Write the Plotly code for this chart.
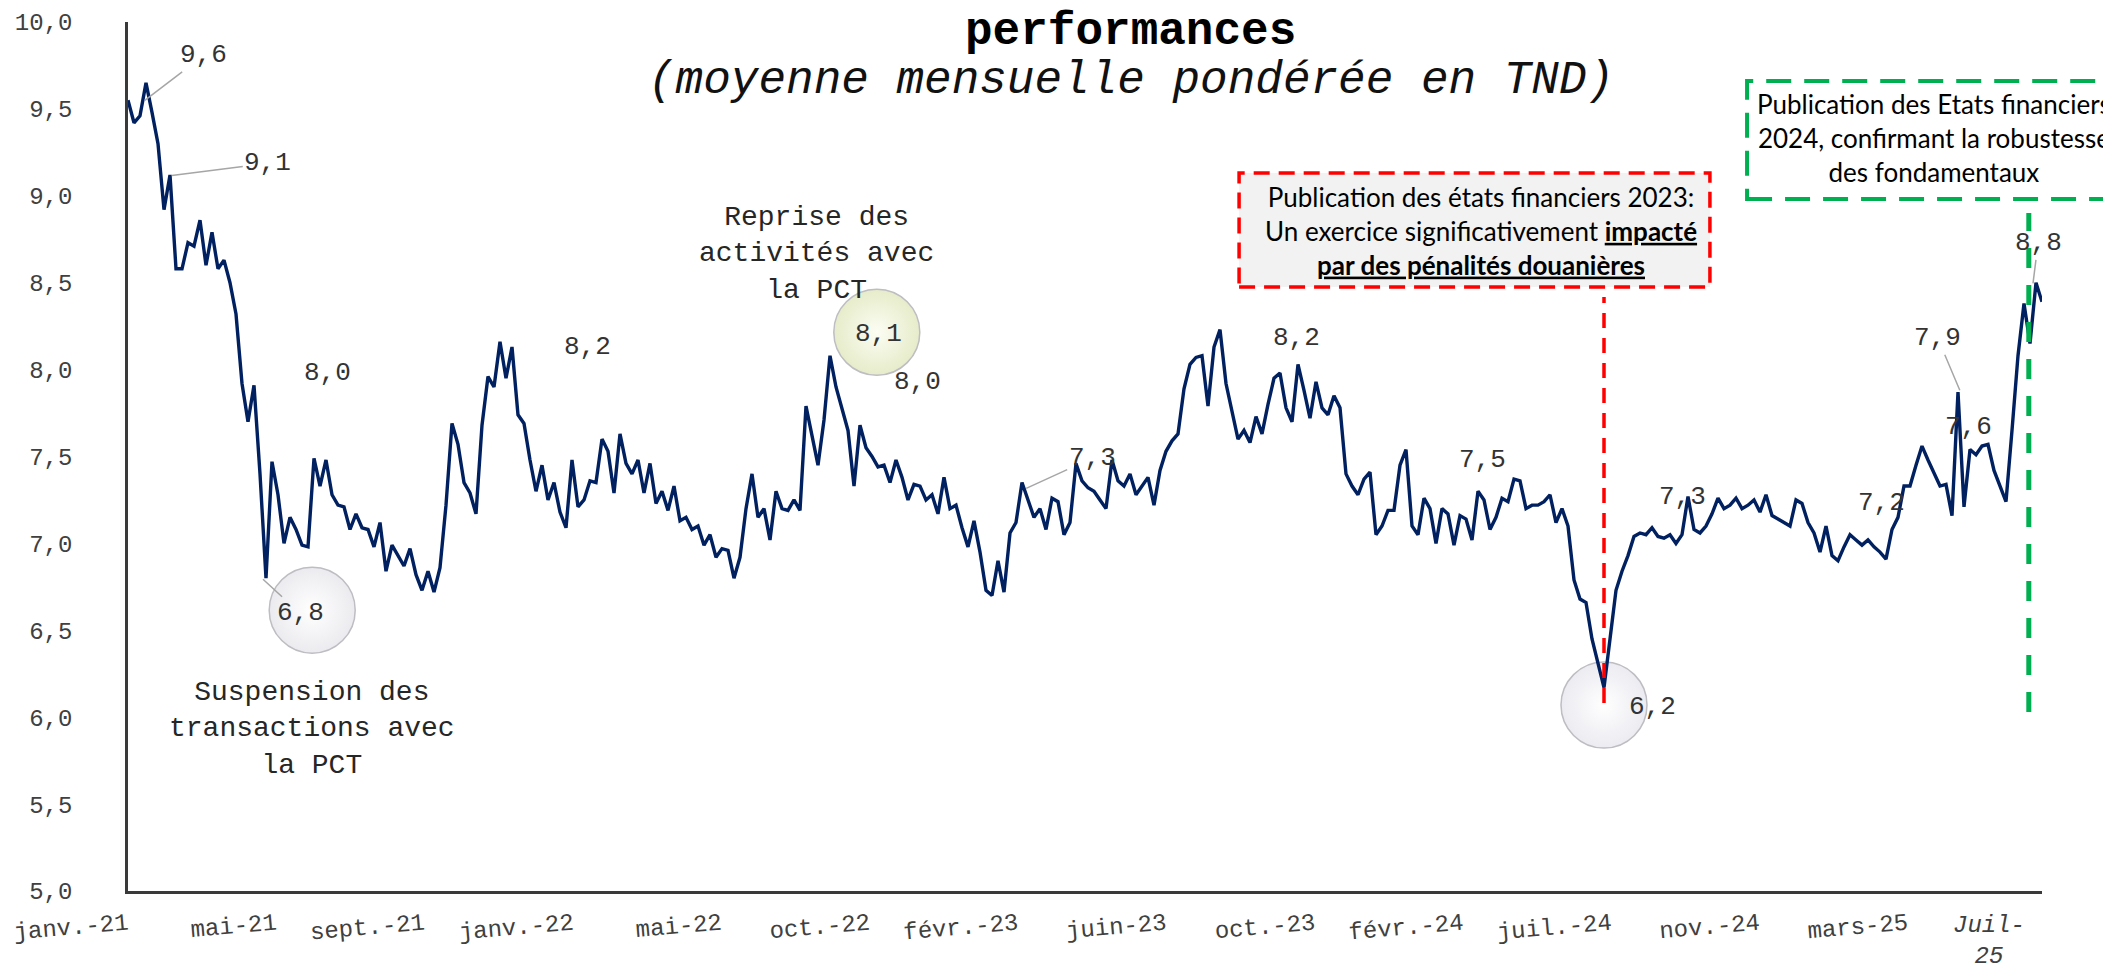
import plotly.graph_objects as go

# ---------------- data ----------------
prices = [
    9.55, 9.42, 9.46, 9.65, 9.48, 9.30, 8.92, 9.12, 8.58, 8.58,
    8.73, 8.71, 8.86, 8.60, 8.79, 8.58, 8.63, 8.50, 8.32, 7.92,
    7.70, 7.91, 7.40, 6.80, 7.47, 7.28, 7.00, 7.15, 7.08, 6.99,
    6.98, 7.49, 7.33, 7.48, 7.28, 7.22, 7.21, 7.08, 7.17, 7.09,
    7.08, 6.98, 7.12, 6.84, 6.99, 6.93, 6.87, 6.97, 6.82, 6.73,
    6.84, 6.72, 6.86, 7.22, 7.69, 7.57, 7.35, 7.29, 7.17, 7.68,
    7.96, 7.90, 8.16, 7.95, 8.13, 7.74, 7.69, 7.48, 7.30, 7.45,
    7.25, 7.35, 7.18, 7.09, 7.48, 7.21, 7.25, 7.36, 7.35, 7.60,
    7.53, 7.29, 7.63, 7.46, 7.40, 7.48, 7.29, 7.46, 7.23, 7.30,
    7.19, 7.33, 7.13, 7.15, 7.08, 7.10, 6.99, 7.05, 6.92, 6.97,
    6.96, 6.80, 6.92, 7.20, 7.40, 7.15, 7.20, 7.02, 7.30, 7.20,
    7.19, 7.25, 7.19, 7.79, 7.61, 7.45, 7.71, 8.08, 7.90, 7.77,
    7.65, 7.33, 7.68, 7.55, 7.50, 7.44, 7.45, 7.35, 7.48, 7.38,
    7.25, 7.34, 7.33, 7.25, 7.28, 7.17, 7.38, 7.20, 7.22, 7.09,
    6.98, 7.13, 6.95, 6.73, 6.70, 6.90, 6.72, 7.06, 7.12, 7.35,
    7.25, 7.15, 7.20, 7.08, 7.26, 7.24, 7.05, 7.12, 7.46, 7.36,
    7.32, 7.30, 7.25, 7.20, 7.48, 7.36, 7.33, 7.40, 7.28, 7.33,
    7.38, 7.22, 7.42, 7.53, 7.59, 7.63, 7.89, 8.03, 8.07, 8.08,
    7.79, 8.13, 8.23, 7.92, 7.75, 7.60, 7.65, 7.58, 7.73, 7.63,
    7.80, 7.95, 7.98, 7.78, 7.70, 8.03, 7.88, 7.72, 7.93, 7.78,
    7.74, 7.85, 7.78, 7.40, 7.33, 7.28, 7.37, 7.41, 7.05, 7.10,
    7.19, 7.19, 7.45, 7.54, 7.10, 7.05, 7.26, 7.20, 7.00, 7.20,
    7.17, 6.99, 7.16, 7.14, 7.02, 7.30, 7.25, 7.08, 7.15, 7.26,
    7.24, 7.37, 7.36, 7.20, 7.22, 7.22, 7.24, 7.28, 7.12, 7.20,
    7.10, 6.79, 6.68, 6.66, 6.45, 6.30, 6.17, 6.45, 6.73, 6.84,
    6.93, 7.04, 7.06, 7.05, 7.09, 7.04, 7.03, 7.05, 7.00, 7.05,
    7.27, 7.08, 7.06, 7.10, 7.17, 7.26, 7.20, 7.22, 7.26, 7.20,
    7.22, 7.25, 7.18, 7.28, 7.16, 7.14, 7.12, 7.10, 7.25, 7.23,
    7.12, 7.06, 6.95, 7.10, 6.93, 6.90, 6.98, 7.05, 7.02, 6.99,
    7.02, 6.98, 6.95, 6.91, 7.08, 7.15, 7.33, 7.33, 7.45, 7.56,
    7.48, 7.40, 7.33, 7.34, 7.16, 7.87, 7.21, 7.54, 7.51, 7.56,
    7.57, 7.42, 7.33, 7.24, 7.65, 8.08, 8.38, 8.15, 8.50, 8.39,
]
sessions = list(range(len(prices)))

x_tick_positions = [0, 24.7, 49.4, 74.2, 98.9, 123.6, 148.3, 173.0, 197.8,
                    222.5, 247.2, 271.9, 296.6]
x_tick_labels = ["janv.-21", "mai-21", "sept.-21", "janv.-22", "mai-22",
                 "oct.-22", "févr.-23", "juin-23", "oct.-23", "févr.-24",
                 "juil.-24", "nov.-24", "mars-25"]
y_tick_values = [5.0, 5.5, 6.0, 6.5, 7.0, 7.5, 8.0, 8.5, 9.0, 9.5, 10.0]
y_tick_labels = ["5,0", "5,5", "6,0", "6,5", "7,0", "7,5", "8,0", "8,5",
                 "9,0", "9,5", "10,0"]

title_text = "performances"
subtitle_text = "(moyenne mensuelle pondérée en TND)"
last_tick_label = "Juil-<br>25"

# value labels: text, anchor (session, price), leader offset in px (or None)
value_labels = [
    ("9,6", 2.8, 9.549, (59, -45)),
    ("9,1", 7.3, 9.117, (96, -12)),
    ("8,0", 33.2, 7.979, None),
    ("6,8", 22.5, 6.794, (37, 34)),
    ("8,2", 76.5, 8.128, None),
    ("8,1", 125.0, 8.203, None),
    ("8,0", 131.5, 7.927, None),
    ("7,3", 149.7, 7.317, (66, -30)),
    ("8,2", 194.7, 8.180, None),
    ("7,5", 225.8, 7.478, None),
    ("7,3", 259.0, 7.266, None),
    ("6,2", 254.0, 6.058, None),
    ("7,2", 292.3, 7.231, None),
    ("7,9", 305.3, 7.881, (-22, -52)),
    ("7,6", 306.7, 7.668, None),
    ("8,8", 317.5, 8.496, (5, -40)),
]

comments = [
    ("Suspension des<br>transactions avec<br>la PCT", 30.7, 5.93),
    ("Reprise des<br>activités avec<br>la PCT", 114.8, 8.665),
]

# highlighted bubbles: (session, price, centre colour, rim colour)
bubbles = [
    (30.7, 6.616, "#ffffff", "#ebebef"),
    (124.8, 8.215, "#fcfdf3", "#e6ecca"),
    (246.0, 6.070, "#ffffff", "#ebebf1"),
]

box_2023 = ("Publication des états financiers 2023:<br>"
            "Un exercice significativement <b><u>impacté</u></b><br>"
            "<b><u>par des pénalités douanières</u></b>")
box_2024 = ("Publication des Etats financiers<br>"
            "2024, confirmant la robustesse<br>"
            "des fondamentaux")

MONO = "Liberation Mono, Courier New, monospace"
SANS = "Lato, Carlito, Calibri, sans-serif"
LINE_COLOR = "#002060"
TXT = "#333333"

fig = go.Figure()

# bubbles (drawn beneath the line); gradient colour = centre, marker colour = rim
for bx, by, c_in, c_out in bubbles:
    fig.add_trace(go.Scatter(
        x=[bx], y=[by], mode="markers", hoverinfo="skip", showlegend=False,
        marker=dict(size=86, color=c_out,
                    gradient=dict(type="radial", color=c_in),
                    line=dict(color="#bdbdc2", width=1.5)),
    ))

fig.add_trace(go.Scatter(
    x=sessions, y=prices, mode="lines", showlegend=False,
    line=dict(color=LINE_COLOR, width=3.4),
    hovertemplate="%{y:.2f}<extra></extra>",
))

annotations = []
for txt, ax_, ay_, leader in value_labels:
    if leader is None:
        annotations.append(dict(x=ax_, y=ay_, text=txt, showarrow=False,
                                xanchor="center", yanchor="middle",
                                font=dict(family=MONO, size=26, color=TXT)))
    else:
        annotations.append(dict(x=ax_, y=ay_, text=txt, showarrow=True,
                                arrowhead=0, arrowwidth=1.5, arrowcolor="#a6a6a6",
                                ax=leader[0], ay=leader[1], standoff=0,
                                font=dict(family=MONO, size=26, color=TXT)))

for txt, cx, cy in comments:
    annotations.append(dict(x=cx, y=cy, text=txt, showarrow=False, align="center",
                            xanchor="center", yanchor="middle",
                            font=dict(family=MONO, size=28, color="#262626")))

annotations += [
    dict(xref="paper", yref="paper", x=0.524, y=0.989, text="<b>" + title_text + "</b>",
         showarrow=False, xanchor="center", yanchor="middle",
         font=dict(family=MONO, size=46, color="#000000")),
    dict(xref="paper", yref="paper", x=0.524, y=0.9321, text="<i>" + subtitle_text + "</i>",
         showarrow=False, xanchor="center", yanchor="middle",
         font=dict(family=MONO, size=46, color="#111111")),
    dict(xref="paper", yref="paper", x=0.7069, y=0.7595, text=box_2023,
         showarrow=False, align="center", xanchor="center", yanchor="middle",
         font=dict(family=SANS, size=26, color="#000000")),
    dict(xref="paper", yref="paper", x=0.9436, y=0.8665, text=box_2024,
         showarrow=False, align="center", xanchor="center", yanchor="middle",
         font=dict(family=SANS, size=26, color="#000000")),
    dict(xref="x", yref="paper", x=310.2, y=-0.0575, text="<i>" + last_tick_label + "</i>",
         showarrow=False, align="center", xanchor="center", yanchor="middle",
         font=dict(family=MONO, size=24, color="#404040")),
]

shapes = [
    dict(type="rect", xref="paper", yref="paper", x0=0.5805, x1=0.8265,
         y0=0.6951, y1=0.8262, fillcolor="#f2f2f2", layer="above",
         line=dict(color="#ff0000", width=3.5, dash="16px,9px")),
    dict(type="line", xref="x", yref="paper", x0=246, x1=246, y0=0.2163, y1=0.6835,
         layer="above", line=dict(color="#ff0000", width=3.5, dash="15px,10px")),
    dict(type="rect", xref="paper", yref="paper", x0=0.8459, x1=1.045,
         y0=0.7963, y1=0.9321, fillcolor="rgba(255,255,255,0)", layer="above",
         line=dict(color="#00b050", width=4, dash="25px,13px")),
    dict(type="line", xref="x", yref="paper", x0=316.8, x1=316.8, y0=0.206, y1=0.7802,
         layer="above", line=dict(color="#00b050", width=5, dash="20px,17px")),
]

fig.update_layout(
    width=2111, height=969,
    margin=dict(l=120, r=77, t=14, b=86),
    paper_bgcolor="white", plot_bgcolor="white",
    showlegend=False,
    annotations=annotations,
    shapes=shapes,
    xaxis=dict(range=[0, len(prices) - 1], showgrid=False, zeroline=False,
               showline=True, linecolor="#3a3a3a", linewidth=2.5,
               tickmode="array", tickvals=x_tick_positions, ticktext=x_tick_labels,
               tickangle=-5, ticks="", automargin=False, ticklabelstandoff=7,
               tickfont=dict(family=MONO, size=24, color="#404040")),
    yaxis=dict(range=[5, 10], showgrid=False, zeroline=False,
               showline=True, linecolor="#3a3a3a", linewidth=2.5,
               tickmode="array", tickvals=y_tick_values, ticktext=y_tick_labels,
               ticks="", ticklabelstandoff=48, automargin=False,
               tickfont=dict(family=MONO, size=24, color="#404040")),
)

fig.write_html("out.html")
